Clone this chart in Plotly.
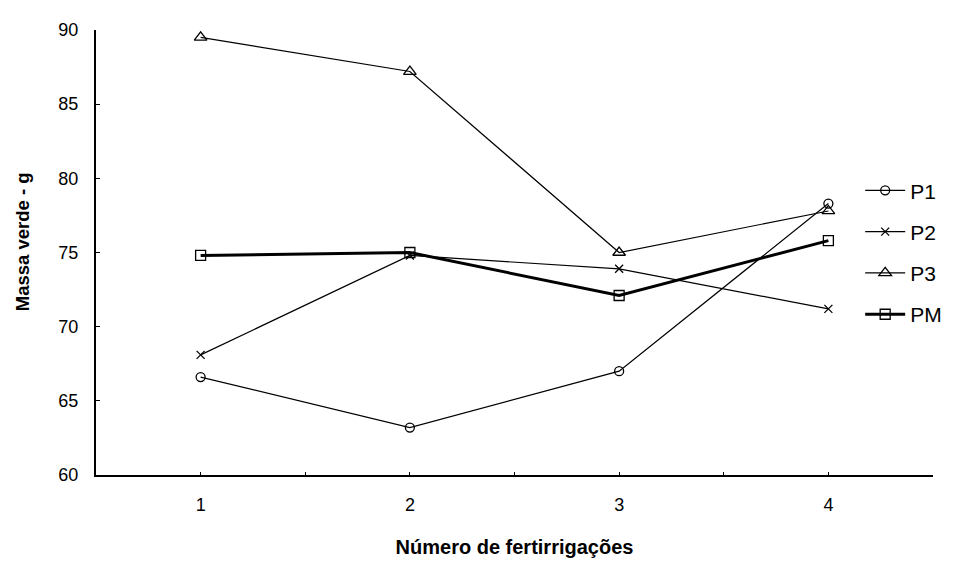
import plotly.graph_objects as go

categories = [1, 2, 3, 4]
p1 = [66.6, 63.2, 67.0, 78.3]
p2 = [68.1, 74.8, 73.9, 71.2]
p3 = [89.5, 87.2, 75.0, 77.8]
pm = [74.8, 75.0, 72.1, 75.8]
y_ticks = [60, 65, 70, 75, 80, 85, 90]

series = [
    ("P1", p1, "circle-open", 9, 1.2),
    ("P2", p2, "x-thin-open", 8, 1.2),
    ("P3", p3, "triangle-up-open", 11, 1.2),
    ("PM", pm, "square-open", 10, 3),
]

fig = go.Figure()
for name, vals, sym, size, w in series:
    fig.add_trace(go.Scatter(
        x=categories, y=vals, name=name, mode="lines+markers",
        legendgroup=name,
        line=dict(color="black", width=w),
        marker=dict(symbol=sym, size=size, color="black",
                    line=dict(color="black", width=1.3)),
    ))

xt = [0.5 + 0.5 * i for i in range(9)]
fig.update_layout(
    width=954, height=559,
    margin=dict(l=88, r=29, t=12, b=90),
    plot_bgcolor="white", paper_bgcolor="white",
    font=dict(family="Liberation Sans, Arial, sans-serif", color="black"),
    showlegend=True,
    legend=dict(x=0.913, y=0.685, xanchor="left", yanchor="top",
                font=dict(size=21), tracegroupgap=11,
                bgcolor="rgba(0,0,0,0)", itemwidth=40),
    xaxis=dict(range=[0.5, 4.5], tickvals=xt,
               ticktext=[str(int(v)) if v == int(v) else "" for v in xt],
               ticks="inside", ticklen=3, tickwidth=1, tickcolor="black",
               showline=True, linecolor="black", linewidth=2, showgrid=False, zeroline=False,
               tickfont=dict(size=18), ticklabelstandoff=12,
               title=dict(text="<b>Número de fertirrigações</b>", font=dict(size=20), standoff=26)),
    yaxis=dict(range=[60, 90], tickvals=y_ticks,
               ticks="inside", ticklen=4, tickwidth=1, tickcolor="black",
               showline=True, linecolor="black", linewidth=2, showgrid=False, zeroline=False,
               tickfont=dict(size=18), ticklabelstandoff=12),
    annotations=[dict(text="<b>Massa verde - g</b>", xref="paper", yref="paper",
                      x=-0.088, y=0.524, xanchor="center", yanchor="middle",
                      textangle=-90, showarrow=False, font=dict(size=18.5))],
)
fig.write_html("out.html")
